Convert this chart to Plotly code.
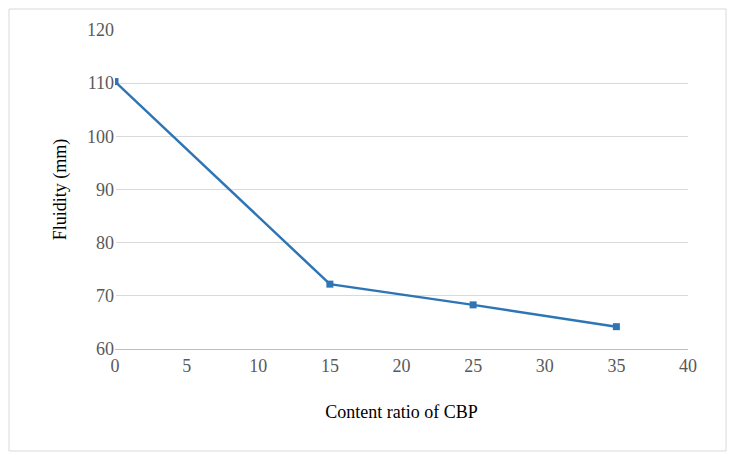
import plotly.graph_objects as go

x_vals = [0, 15, 25, 35]
y_vals = [110.3, 72.2, 68.3, 64.2]

fig = go.Figure(go.Scatter(x=x_vals, y=y_vals, mode="lines+markers",
    line=dict(color="#2E75B6", width=2.5),
    marker=dict(symbol="square", size=7, color="#2E75B6")))
fig.update_layout(
    width=735, height=458, paper_bgcolor="white", plot_bgcolor="white",
    margin=dict(l=107, r=55, t=22, b=117),
    font=dict(family="Liberation Serif", size=18, color="#595959"),
    showlegend=False,
    shapes=[dict(type="rect", xref="paper", yref="paper",
                 x0=-106/573, x1=(718-107)/573, y0=-102/319, y1=340/319,
                 line=dict(color="#D9D9D9", width=1))],
)
fig.update_xaxes(range=[0, 40], dtick=5, showgrid=False, showline=True,
    linecolor="#BFBFBF", ticks="", ticklen=0,
    title=dict(text="Content ratio of CBP", font=dict(color="black", size=18), standoff=30))
fig.update_yaxes(range=[60, 120], dtick=10, gridcolor="#D9D9D9", showline=False,
    zeroline=False,
    title=dict(text="Fluidity (mm)", font=dict(color="black", size=18), standoff=15))
fig.write_html("out.html")
